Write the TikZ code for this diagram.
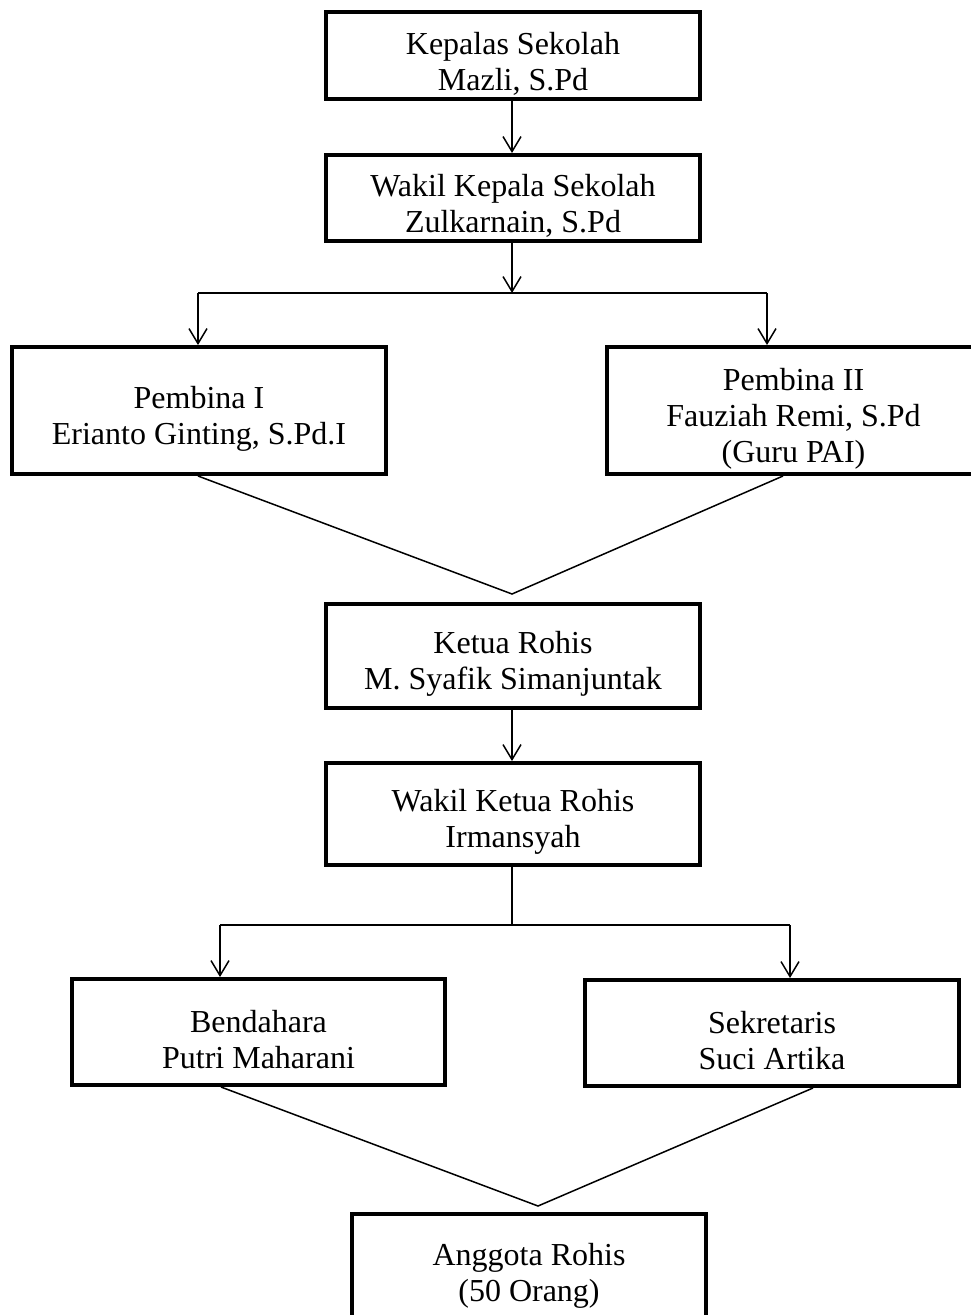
\documentclass[tikz,border=0pt]{standalone}
\usepackage{fontspec}
\setmainfont{Liberation Serif}
\usetikzlibrary{arrows.meta}
\begin{document}
\begin{tikzpicture}[x=1pt,y=-1pt,
  box/.style={draw, line width=4pt, inner sep=0pt},
  txt/.style={align=center, inner sep=0pt, yshift=-8pt,
    font=\fontsize{32}{36}\selectfont},
  conn/.style={line width=1.5pt},
  arr/.style={conn, -{Straight Barb[length=15pt,width=18pt,line width=1.5pt]}}]
\fill[white] (0,0) rectangle (970,1315);
\useasboundingbox (0,0) rectangle (970,1315);

\node[box, minimum width=374pt, minimum height=87pt,
  label={[txt]center:{Kepalas Sekolah\\Mazli, S.Pd}}] (b1) at (513,55.5) {};
\node[box, minimum width=374pt, minimum height=86pt,
  label={[txt]center:{Wakil Kepala Sekolah\\Zulkarnain, S.Pd}}] (b2) at (513,198) {};
\node[box, minimum width=374pt, minimum height=127pt,
  label={[txt]center:{Pembina I\\Erianto Ginting, S.Pd.I}}] (b3) at (199,410.5) {};
\node[box, minimum width=373pt, minimum height=127pt,
  label={[txt]center:{Pembina II\\Fauziah Remi, S.Pd\\(Guru PAI)}}] (b4) at (793.5,410.5) {};
\node[box, minimum width=374pt, minimum height=104pt,
  label={[txt]center:{Ketua Rohis\\M. Syafik Simanjuntak}}] (b5) at (513,656) {};
\node[box, minimum width=374pt, minimum height=102pt,
  label={[txt]center:{Wakil Ketua Rohis\\Irmansyah}}] (b6) at (513,814) {};
\node[box, minimum width=373pt, minimum height=106pt,
  label={[txt]center:{Bendahara\\Putri Maharani}}] (b7) at (258.5,1032) {};
\node[box, minimum width=374pt, minimum height=106pt,
  label={[txt]center:{Sekretaris\\Suci Artika}}] (b8) at (772,1033) {};
\node[box, minimum width=354pt, minimum height=112pt,
  label={[txt, yshift=2pt]center:{Anggota Rohis\\(50 Orang)}}] (b9) at (529,1270) {};

\coordinate (cx) at (512,0);
\coordinate (j1) at (512,293);
\coordinate (j1l) at (198,293);
\coordinate (j1r) at (767,293);
\coordinate (s3) at (198,0);
\coordinate (s4) at (783,0);
\coordinate (ap1) at (512,594);
\coordinate (j2) at (512,925);
\coordinate (j2l) at (220,925);
\coordinate (j2r) at (790,925);
\coordinate (s7) at (221,0);
\coordinate (s8) at (813,0);
\coordinate (ap2) at (538,1206);

\draw[arr] (b1.south -| cx) -- (b2.north -| cx);
\draw[arr] (b2.south -| cx) -- (j1);
\draw[conn] (j1l) -- (j1r);
\draw[arr] (j1l) -- (b3.north -| j1l);
\draw[arr] (j1r) -- (b4.north -| j1r);
\draw[conn] (b3.south -| s3) -- (ap1) -- (b4.south -| s4);
\draw[arr] (b5.south -| cx) -- (b6.north -| cx);
\draw[conn] (b6.south -| cx) -- (j2);
\draw[conn] (j2l) -- (j2r);
\draw[arr] (j2l) -- (b7.north -| j2l);
\draw[arr] (j2r) -- (b8.north -| j2r);
\draw[conn] (b7.south -| s7) -- (ap2) -- (b8.south -| s8);
\end{tikzpicture}
\end{document}
